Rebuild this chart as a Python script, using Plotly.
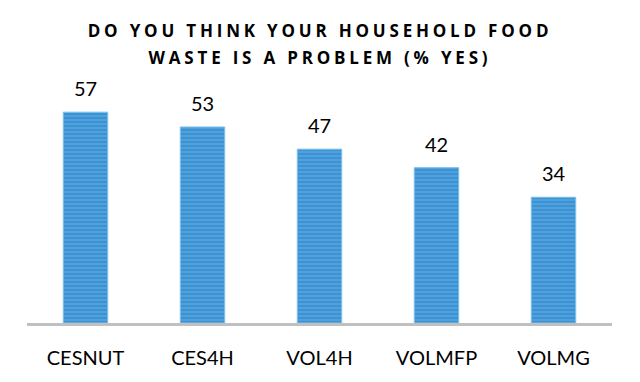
import plotly.graph_objects as go

categories = ["CESNUT", "CES4H", "VOL4H", "VOLMFP", "VOLMG"]
values = [57, 53, 47, 42, 34]
title_text = "DO YOU THINK YOUR HOUSEHOLD FOOD<br>WASTE IS A PROBLEM (% YES)"

fig = go.Figure()
fig.add_trace(go.Bar(
    x=categories, y=values,
    marker=dict(
        color="#3c93d4",
        line=dict(color="#7cc0ee", width=1),
        pattern=dict(shape="-", fgcolor="#6fb4e8", bgcolor="#3c93d4", size=4, solidity=0.4),
    ),
    width=0.38,
    hoverinfo="skip",
))

for c, v in zip(categories, values):
    fig.add_annotation(x=c, y=v, text=str(v), showarrow=False, yshift=24,
                       font=dict(family="Lato, Open Sans, sans-serif", size=20, color="#000"))

fig.update_layout(
    width=640, height=382,
    margin=dict(l=27, r=28, t=70, b=59),
    paper_bgcolor="white", plot_bgcolor="white",
    showlegend=False,
    title=dict(text=title_text, x=0.5, xanchor="center", y=0.903, yanchor="top",
               font=dict(family="Open Sans, Lato, sans-serif", size=17, color="#000", weight="bold")),
    xaxis=dict(showline=True, linecolor="#c0c0c0", linewidth=3, ticks="", showgrid=False,
               tickfont=dict(family="Lato, Open Sans, sans-serif", size=20, color="#000"),
               ticklabelstandoff=15),
    yaxis=dict(visible=False, range=[0, 68.4], showgrid=False, zeroline=False),
)

post = """
document.body.style.margin = '0';
document.body.style.padding = '0';
var t = document.querySelectorAll('.gtitle');
t.forEach(function(e){
  e.style.letterSpacing = '3.8px';
  var lines = e.querySelectorAll('tspan.line');
  if (lines.length > 1) { lines[1].setAttribute('dy', '1.6em'); }
});
"""
fig.write_html("out.html", post_script=post, config={"displayModeBar": False})
